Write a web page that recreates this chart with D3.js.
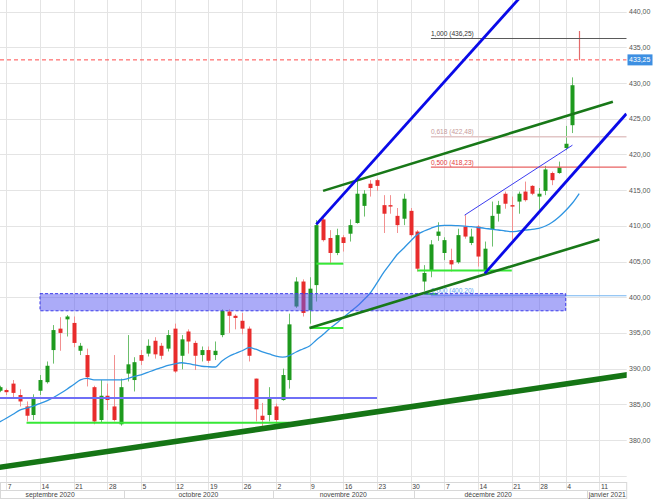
<!DOCTYPE html>
<html>
<head>
<meta charset="utf-8">
<script src="https://cdn.jsdelivr.net/npm/d3@7"></script>
<style>
html, body { margin: 0; padding: 0; background: #fff; }
svg { display: block; font-family: "Liberation Sans", Arial, sans-serif; }
</style>
</head>
<body>
<svg id="chart" width="653" height="500"></svg>
<script>
// ---- data ----
const calendarStart = '2020-09-01';
const firstDay = '2020-09-04';
const holidays = ['2020-12-25', '2021-01-01'];

const opens = [386.9, 387.0, 387.9, 386.3, 384.7, 383.5, 386.9, 388.1, 392.6, 395.6,
    396.9, 396.4, 392.5, 391.9, 387.4, 382.8, 386.2, 384.7, 382.2, 389.3,
    388.4, 391.9, 392.1, 393.9, 393.2, 392.8, 395.6, 391.8, 395.2, 393.6,
    391.9, 392.6, 391.9, 394.7, 398.0, 397.4, 396.7, 395.6, 388.6, 383.4,
    383.5, 384.7, 385.6, 388.4, 398.7, 402.2, 398.2, 401.7, 410.9, 408.3,
    406.2, 408.4, 408.9, 410.4, 412.8, 415.9, 416.4, 412.9, 412.9, 411.4,
    411.0, 412.1, 409.2, 402.2, 403.8, 408.6, 406.2, 405.2, 404.9, 409.9,
    407.6, 409.9, 403.8, 409.5, 411.7, 414.5, 412.9, 413.4, 414.8, 415.6,
    414.1, 414.9, 417.4, 417.4, 420.9, 424.1, 433.3];
const highs = [387.6, 387.2, 388.4, 387.1, 385.4, 386.4, 389.1, 391.0, 396.1, 397.2,
    397.5, 397.3, 393.6, 392.8, 387.6, 388.4, 387.9, 391.9, 388.6, 394.7,
    391.6, 392.6, 394.1, 394.4, 393.6, 395.4, 396.3, 394.7, 395.5, 393.9,
    393.1, 393.1, 393.8, 398.3, 398.3, 397.6, 397.8, 395.9, 388.6, 385.2,
    387.4, 385.1, 390.0, 397.7, 402.8, 402.5, 402.8, 410.8, 411.3, 409.4,
    409.6, 408.7, 410.9, 416.4, 415.0, 416.4, 416.6, 414.3, 414.3, 412.5,
    414.5, 412.5, 409.4, 404.5, 408.0, 410.5, 408.4, 406.8, 409.6, 411.5,
    409.6, 410.1, 407.8, 413.4, 413.5, 414.8, 414.1, 414.8, 416.2, 415.7,
    415.3, 418.4, 417.6, 419.0, 424.0, 430.8, 437.3];
const lows = [386.7, 386.3, 385.8, 384.7, 382.6, 382.8, 386.3, 387.9, 390.7, 392.5,
    394.5, 393.0, 391.9, 387.5, 382.2, 382.4, 384.2, 382.6, 382.0, 388.2,
    386.8, 390.5, 391.7, 391.4, 391.3, 392.4, 389.4, 389.9, 392.1, 389.8,
    391.0, 390.8, 391.2, 394.4, 395.0, 395.5, 394.8, 391.0, 382.6, 381.9,
    382.6, 381.6, 385.5, 387.2, 398.5, 397.3, 396.3, 399.4, 407.8, 404.7,
    405.9, 406.4, 407.8, 410.3, 411.3, 414.1, 414.9, 409.0, 411.7, 409.0,
    410.1, 408.5, 403.6, 400.9, 402.8, 407.9, 405.2, 403.6, 404.7, 408.2,
    407.3, 404.3, 403.3, 407.1, 410.6, 412.4, 408.0, 411.7, 413.4, 414.3,
    412.0, 414.3, 415.7, 417.3, 420.6, 423.0, 433.2];
const closes = [387.4, 386.7, 386.6, 385.4, 383.4, 385.8, 388.4, 390.4, 395.4, 395.0,
    397.3, 393.6, 393.2, 388.8, 382.6, 386.2, 385.6, 382.8, 387.4, 390.6,
    390.9, 391.1, 393.2, 392.0, 391.8, 394.7, 389.6, 394.1, 393.8, 391.8,
    392.6, 391.1, 392.5, 398.1, 397.4, 397.1, 395.6, 391.8, 384.3, 382.8,
    385.8, 382.8, 389.1, 396.2, 402.2, 397.8, 401.2, 410.1, 408.0, 406.2,
    408.7, 407.6, 410.1, 414.5, 414.5, 415.3, 415.6, 411.7, 412.7, 410.1,
    413.8, 408.7, 404.0, 403.4, 407.4, 409.2, 408.0, 404.6, 408.7, 408.5,
    408.5, 405.7, 406.8, 411.4, 412.9, 413.1, 412.7, 414.5, 413.6, 414.5,
    414.5, 417.9, 416.4, 418.2, 421.5, 429.7, 433.25];
const maValues = [382.52, 383.05, 383.61, 384.19, 384.48, 384.76, 385.11, 385.49, 385.95, 386.51,
    387.12, 387.78, 388.41, 388.62, 388.41, 388.41, 388.41, 388.41, 388.41, 388.59,
    388.92, 389.13, 389.48, 389.83, 390.14, 390.45, 390.68, 390.82, 390.69, 390.51,
    390.33, 390.26, 390.23, 391.07, 391.70, 392.12, 392.50, 392.93, 392.72, 392.33,
    392.05, 391.74, 391.60, 391.82, 392.33, 392.75, 393.17, 394.01, 394.78, 395.62,
    396.35, 397.16, 397.93, 398.69, 399.61, 400.59, 402.00, 403.47, 404.73, 405.99,
    406.90, 407.88, 408.78, 409.28, 409.66, 409.98, 410.08, 410.08, 410.02, 409.95,
    409.88, 409.77, 409.66, 409.53, 409.42, 409.28, 409.18, 409.28, 409.39, 409.52,
    409.63, 409.98, 410.50, 411.24, 412.15, 413.20, 414.53];

const priceTicks = [380, 385, 390, 395, 400, 405, 410, 415, 420, 425, 430, 435, 440];
const dayTicks = ['2020-09-07', '2020-09-14', '2020-09-21', '2020-09-28', '2020-10-05', '2020-10-12',
    '2020-10-19', '2020-10-26', '2020-11-02', '2020-11-09', '2020-11-16', '2020-11-23', '2020-11-30',
    '2020-12-07', '2020-12-14', '2020-12-21', '2020-12-28', '2021-01-04', '2021-01-11'];
const monthLabels = ['septembre 2020', 'octobre 2020', 'novembre 2020', 'décembre 2020', 'janvier 2021'];
const monthKeys = ['2020-09', '2020-10', '2020-11', '2020-12', '2021-01'];

// drawn tools: [date, price] -> [date, price]
const supportLong = [['2020-09-07', 376.3], ['2021-01-11', 388.55]];
const channelUp = [['2020-11-10', 410.2], ['2020-12-17', 438.6]];
const channelLow = [['2020-12-15', 403.35], ['2021-01-15', 425.7]];
const channelThin = [['2020-12-10', 411.5], ['2021-01-05', 421.3]];
const greenTop = [['2020-11-11', 414.9], ['2021-01-13', 427.4]];
const greenBottom = [['2020-11-09', 395.7], ['2021-01-11', 408.1]];
const blueLevel = [['2020-09-04', 385.9], ['2020-11-23', 385.9]];
const limeLevels = [
    [['2020-09-10', 382.4], ['2020-11-04', 382.4]],
    [['2020-11-09', 395.7], ['2020-11-16', 395.7]],
    [['2020-11-10', 404.7], ['2020-11-16', 404.7]],
    [['2020-12-01', 403.75], ['2020-12-21', 403.75]],
    [['2020-12-02', 400.45], ['2020-12-04', 400.45]],
];
const zone = [['2020-09-14', 398.1], ['2021-01-04', 400.5]];
const fibStart = '2020-12-03';
const fibRatios = [1.0, 0.618, 0.5, 0.0];
const fibPrices = [436.25, 422.48, 418.23, 400.2];
const lastPrice = 433.25;

// ---- setup ----
const W = 653, H = 500, plotW = 626.7, plotH = 482;
const svg = d3.select('#chart');
const fr = d3.formatLocale({ decimal: ',', thousands: ' ', grouping: [3], currency: ['', ' €'] });
const fmt2 = fr.format('.2f'), fmt3 = fr.format('.3f');

// trading day calendar (weekdays, no holidays)
const parse = d3.utcParse('%Y-%m-%d'), key = d3.utcFormat('%Y-%m-%d');
const days = [];
let d = parse(calendarStart);
while (days.length < 130) {
    const k = key(d);
    if (d.getUTCDay() !== 0 && d.getUTCDay() !== 6 && !holidays.includes(k)) days.push(d);
    d = d3.utcDay.offset(d, 1);
}
const idx = new Map(days.map((e, i) => [key(e), i]));
const off = idx.get(firstDay);

const x = d3.scaleLinear().domain([off + 0.065, off + 93.05]).range([0, plotW]);
const y = d3.scaleLinear().domain([380, 440]).range([440, 11.7]);
const px = (p) => x(idx.get(p[0]));
const py = (p) => y(p[1]);

svg.append('rect').attr('width', W).attr('height', H).attr('fill', '#fff');
svg.append('clipPath').attr('id', 'plot').append('rect').attr('width', plotW).attr('height', plotH);

// grid
const grid = svg.append('g').attr('stroke', '#e4e4e4').attr('stroke-width', 1);
grid.selectAll('.h')
    .data(d3.range(375, 445, 5))
    .enter()
    .append('line')
    .attr('x1', 0).attr('x2', plotW)
    .attr('y1', (v) => Math.round(y(v)) + 0.5).attr('y2', (v) => Math.round(y(v)) + 0.5);
grid.selectAll('.v')
    .data(dayTicks)
    .enter()
    .append('line')
    .attr('x1', (t) => Math.round(x(idx.get(t))) + 0.5).attr('x2', (t) => Math.round(x(idx.get(t))) + 0.5)
    .attr('y1', 0).attr('y2', 490);

const plot = svg.append('g').attr('clip-path', 'url(#plot)');

// candles
const candles = opens.map((o, i) => ({ i: i + off, o: o, h: highs[i], l: lows[i], c: closes[i] }));
const cg = plot.append('g');
cg.selectAll('.wick')
    .data(candles)
    .enter()
    .append('line')
    .attr('x1', (e) => Math.round(x(e.i)) + 0.5).attr('x2', (e) => Math.round(x(e.i)) + 0.5)
    .attr('y1', (e) => y(e.h)).attr('y2', (e) => y(e.l))
    .attr('stroke', (e) => (e.c >= e.o ? '#6cbf6c' : '#f29090'))
    .attr('stroke-width', 1);
cg.selectAll('.body')
    .data(candles.slice(0, -1))
    .enter()
    .append('rect')
    .attr('x', (e) => Math.round(x(e.i)) - 1.5)
    .attr('width', 4)
    .attr('y', (e) => y(Math.max(e.o, e.c)))
    .attr('height', (e) => Math.max(1, Math.abs(y(e.o) - y(e.c))))
    .attr('fill', (e) => (e.c >= e.o ? '#1e9a1e' : '#e82c2c'));
// last (partial) session: just a thin red stroke
const lastC = candles[candles.length - 1];
cg.append('line')
    .attr('x1', Math.round(x(lastC.i)) + 0.5).attr('x2', Math.round(x(lastC.i)) + 0.5)
    .attr('y1', y(lastC.h)).attr('y2', y(lastC.c))
    .attr('stroke', '#e46a6a').attr('stroke-width', 1.2);

// moving average
plot.append('path')
    .datum(maValues)
    .attr('fill', 'none')
    .attr('stroke', '#2f95e2')
    .attr('stroke-width', 1.3)
    .attr('d', d3.line().x((v, i) => x(i + off)).y((v) => y(v)).curve(d3.curveMonotoneX));

// red dashed last price
plot.append('line')
    .attr('x1', 0).attr('x2', plotW)
    .attr('y1', y(lastPrice)).attr('y2', y(lastPrice))
    .attr('stroke', '#ff4a4a').attr('stroke-dasharray', '4,3');

// horizontal levels
plot.append('line')
    .attr('x1', px(blueLevel[0])).attr('x2', px(blueLevel[1]))
    .attr('y1', py(blueLevel[0])).attr('y2', py(blueLevel[1]))
    .attr('stroke', '#6f6ff6').attr('stroke-width', 2);
plot.selectAll('.lime')
    .data(limeLevels)
    .enter()
    .append('line')
    .attr('x1', (s) => px(s[0])).attr('x2', (s) => px(s[1]))
    .attr('y1', (s) => py(s[0])).attr('y2', (s) => py(s[1]))
    .attr('stroke', '#36e836').attr('stroke-width', 2);

// fibonacci
const fibX = x(idx.get(fibStart));
const fibLine = ['#5a5a5a', '#e2c6c6', '#e86262', '#74b4f0'];
const fibText = ['#333', '#c79a9a', '#e43c3c', '#6aaaf0'];
fibRatios.forEach((r, i) => {
    plot.append('line')
        .attr('x1', fibX).attr('x2', plotW)
        .attr('y1', y(fibPrices[i])).attr('y2', y(fibPrices[i]))
        .attr('stroke', fibLine[i]).attr('stroke-width', i === 1 ? 1.6 : 1.1);
    plot.append('text')
        .attr('x', fibX).attr('y', y(fibPrices[i]) - 2.5)
        .attr('font-size', 6.6).attr('fill', fibText[i])
        .text(fmt3(r) + ' (' + fmt2(fibPrices[i]) + ')');
});

// zone
plot.append('rect')
    .attr('x', px(zone[0])).attr('width', px(zone[1]) - px(zone[0]))
    .attr('y', py(zone[1])).attr('height', py(zone[0]) - py(zone[1]))
    .attr('fill', 'rgba(88,88,242,0.5)')
    .attr('stroke', '#3b3bea').attr('stroke-dasharray', '3,2').attr('stroke-width', 1);

// trend lines (extended across the plot where the tool was extended)
function trend(seg, color, w, extend) {
    const x0 = idx.get(seg[0][0]), x1 = idx.get(seg[1][0]);
    const slope = (seg[1][1] - seg[0][1]) / (x1 - x0);
    const dom = x.domain();
    let a = x0, b = x1;
    if (extend === 'both') { a = dom[0] - 2; b = dom[1] + 2; }
    if (extend === 'right') { b = dom[1] + 2; }
    plot.append('line')
        .attr('x1', x(a)).attr('y1', y(seg[0][1] + slope * (a - x0)))
        .attr('x2', x(b)).attr('y2', y(seg[0][1] + slope * (b - x0)))
        .attr('stroke', color).attr('stroke-width', w).attr('stroke-linecap', 'butt');
}
trend(supportLong, '#157515', 5.5, 'both');
trend(greenTop, '#187818', 2.6);
trend(greenBottom, '#187818', 2.6);
trend(channelUp, '#0a0ae8', 2.8, 'right');
trend(channelLow, '#0a0ae8', 2.8);
trend(channelThin, '#3c3cf0', 1);

// right axis
const ax = svg.append('g').attr('font-size', 7).attr('fill', '#555');
ax.selectAll('text')
    .data(priceTicks)
    .enter()
    .append('text')
    .attr('x', 629).attr('y', (v) => y(v) + 2.5)
    .text((v) => fmt2(v));
svg.append('rect')
    .attr('x', 627.5).attr('y', y(lastPrice) - 5.5).attr('width', 25).attr('height', 11)
    .attr('fill', '#3d8fe2');
svg.append('text')
    .attr('x', 629).attr('y', y(lastPrice) + 2.5)
    .attr('font-size', 7).attr('fill', '#fff')
    .text(fmt2(lastPrice));

// bottom axis
const bx = svg.append('g');
bx.append('rect').attr('x', 0.5).attr('y', 482.5).attr('width', plotW - 0.5).attr('height', 16)
    .attr('fill', 'none').attr('stroke', '#d8d8d8');
bx.append('line').attr('x1', 0).attr('x2', plotW).attr('y1', 490.5).attr('y2', 490.5).attr('stroke', '#d8d8d8');
bx.selectAll('.day')
    .data(dayTicks)
    .enter()
    .append('text')
    .attr('x', (t) => x(idx.get(t)) + 1.5)
    .attr('y', 488.8)
    .attr('font-size', 6.8).attr('fill', '#444')
    .text((t) => +t.slice(8));

monthKeys.forEach((m, i) => {
    const inMonth = days.map((e, j) => [key(e), j]).filter((e) => e[0].startsWith(m)).map((e) => e[1]);
    const a = x(d3.min(inMonth) - 0.5), b = x(d3.max(inMonth) + 0.5);
    const t = bx.append('text')
        .attr('y', 497.3).attr('font-size', 6.8).attr('fill', '#444')
        .text(monthLabels[i]);
    const tw = t.node().getComputedTextLength();
    let left = (a + b) / 2 - tw / 2, clamped = false;
    if (left + tw > plotW - 1) { left = plotW - 1 - tw; clamped = true; }
    if (left < 2) { left = 2; clamped = true; }
    t.attr('x', left);
    const sep = clamped ? left - 2 : a;
    if (sep > 1) {
        bx.append('line').attr('x1', Math.round(sep) + 0.5).attr('x2', Math.round(sep) + 0.5)
            .attr('y1', 490.5).attr('y2', 498.5).attr('stroke', '#d8d8d8');
    }
});
</script>
</body>
</html>
